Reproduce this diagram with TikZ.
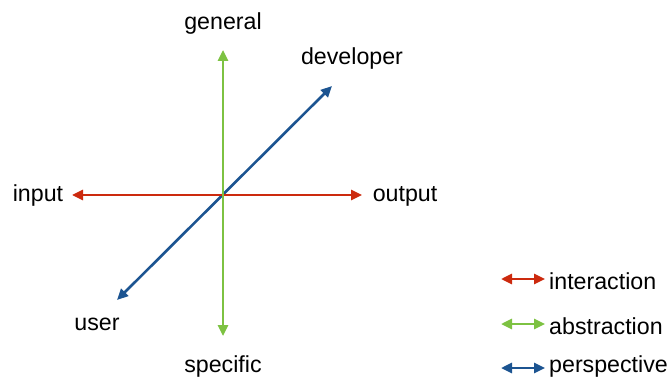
\documentclass[tikz,border=0pt]{standalone}
\usepackage{fontspec}
\setmainfont{Liberation Sans}
\usetikzlibrary{arrows.meta}
\definecolor{cred}{RGB}{204,42,14}
\definecolor{cgreen}{RGB}{125,194,66}
\definecolor{cblue}{RGB}{28,84,145}
\begin{document}
\begin{tikzpicture}[x=1pt,y=-1pt,
  axis/.style={line width=2.6pt,{Triangle[length=11pt,width=10pt]}-{Triangle[length=11pt,width=10pt]}},
  lbl/.style={font=\fontsize{23.2}{27}\selectfont,inner sep=0pt},
  leg/.style={font=\fontsize{23.2}{27}\selectfont,inner sep=0pt,anchor=west}]
\useasboundingbox (0,0) rectangle (671,379);
\coordinate (gt) at (223,50);
\coordinate (gb) at (223,336);
\coordinate (rl) at (72,195);
\coordinate (rr) at (362,195);
\coordinate (bl) at (117,300);
\coordinate (bu) at (332,86);
\draw[axis,cblue] (bl) -- (bu);
\draw[axis,cred] (rl) -- (rr);
\draw[axis,cgreen] (gb) -- (gt);
\node[lbl] (general) at (223,24) {general};
\node[lbl] (developer) at (352,59) {developer};
\node[lbl] (input) at (38,196) {input};
\node[lbl] (output) at (405,196) {output};
\node[lbl] (user) at (97,324) {user};
\node[lbl] (specific) at (223,366) {specific};
\coordinate (l1a) at (501,279); \coordinate (l1b) at (545,279);
\coordinate (l2a) at (501,324); \coordinate (l2b) at (545,324);
\coordinate (l3a) at (501,368); \coordinate (l3b) at (545,368);
\draw[axis,cred] (l1a) -- (l1b);
\draw[axis,cgreen] (l2a) -- (l2b);
\draw[axis,cblue] (l3a) -- (l3b);
\node[leg] (interaction) at (549,281) {interaction};
\node[leg] (abstraction) at (549,326) {abstraction};
\node[leg] (perspective) at (549,366) {perspective};
\end{tikzpicture}
\end{document}
